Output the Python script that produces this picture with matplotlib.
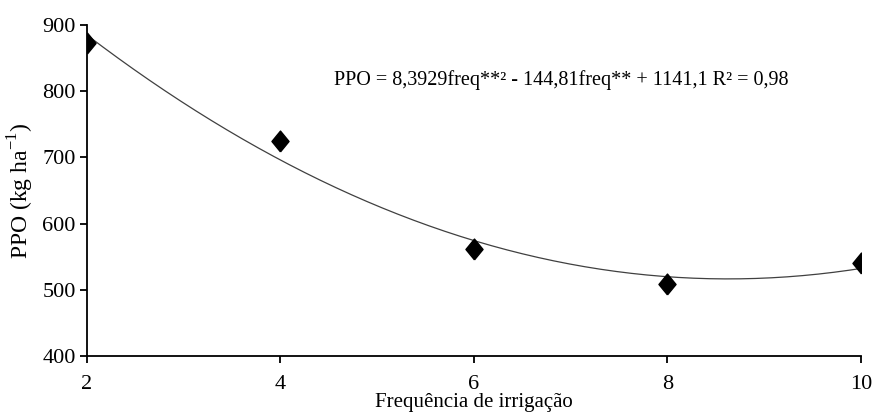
import numpy as np
import matplotlib
matplotlib.use("Agg")
import matplotlib.pyplot as plt

# dados
freq = [2, 4, 6, 8, 10]
ppo = [873, 725, 562, 509, 540]

# coeficientes da equação exibida
coef = [8.3929, -144.81, 1141.1]

plt.rcParams["font.family"] = ["Liberation Serif", "DejaVu Serif"]
plt.rcParams["mathtext.fontset"] = "custom"
plt.rcParams["mathtext.rm"] = "Liberation Serif"

fig = plt.figure(figsize=(8.74, 4.12), dpi=100)
ax = fig.add_axes([0.0995, 0.136, 0.8856, 0.803])

# losango um pouco mais alto que largo
losango = [(0, -1), (0.82, 0), (0, 1), (-0.82, 0), (0, -1)]

xs = np.linspace(min(freq), max(freq), 200)
ax.plot(xs, np.polyval(coef, xs), color="#404040", lw=0.9)
ax.plot(freq, ppo, marker=losango, color="black", markersize=15, linestyle="none")

ax.set_xlim(2, 10)
ax.set_ylim(400, 900)
ax.set_xticks([2, 4, 6, 8, 10])
ax.set_yticks([400, 500, 600, 700, 800, 900])
ax.spines["top"].set_visible(False)
ax.spines["right"].set_visible(False)
ax.spines["left"].set_linewidth(1.3)
ax.spines["bottom"].set_linewidth(1.3)
ax.tick_params(direction="out", length=5, width=1.3, labelsize=16)
ax.tick_params(axis="x", pad=9)
ax.tick_params(axis="y", pad=3)

ax.set_ylabel("PPO (kg ha$^{\\mathregular{-1}}$)", fontsize=17, va="center")
ax.yaxis.set_label_coords(-0.086, 0.5)
ax.set_xlabel("Frequência de irrigação", fontsize=15, va="baseline")
ax.xaxis.set_label_coords(0.5, -0.154)

ax.text(4.55, 817, "PPO = 8,3929freq**² - 144,81freq** + 1141,1 R² = 0,98",
        fontsize=14.5, va="center", ha="left")

fig.savefig("out.png", dpi=100)
